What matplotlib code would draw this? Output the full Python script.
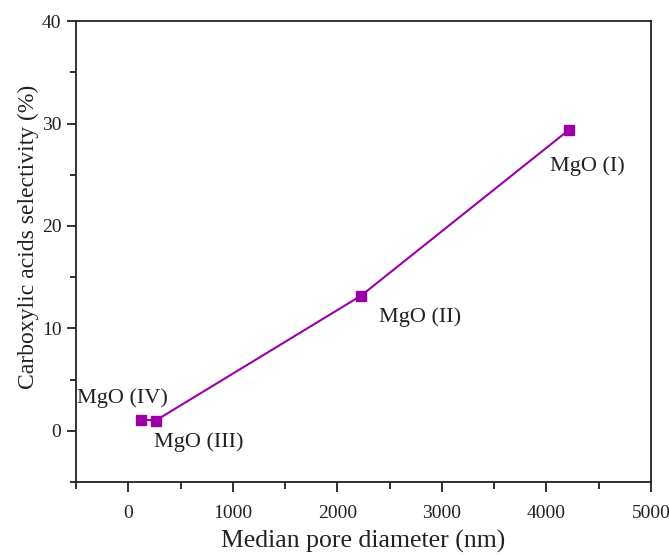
import matplotlib
matplotlib.use("Agg")
import matplotlib.pyplot as plt
from matplotlib.ticker import MultipleLocator

# data
pore_diameter = [124, 262, 2228, 4218]          # nm
selectivity = [1.1, 1.0, 13.2, 29.4]            # %
sample_labels = ["MgO (IV)", "MgO (III)", "MgO (II)", "MgO (I)"]
label_pos = [(-490, 3.2), (250, -1.1), (2400, 11.1), (4030, 25.8)]

plt.rcParams["font.family"] = ["Liberation Serif", "DejaVu Serif"]
purple = "#9b00a8"
ink = "#222222"

fig = plt.figure(figsize=(6.69, 5.55), dpi=100)
ax = fig.add_axes([0.1136, 0.1315, 0.8594, 0.8305])

ax.plot(pore_diameter, selectivity, color=purple, lw=1.5,
        marker="s", ms=7, mec=purple, mfc=purple)

for text, (tx, ty) in zip(sample_labels, label_pos):
    ax.text(tx, ty, text, ha="left", va="center", fontsize=16, color=ink)

ax.set_xlim(-500, 5000)
ax.set_ylim(-5, 40)
ax.xaxis.set_major_locator(MultipleLocator(1000))
ax.xaxis.set_minor_locator(MultipleLocator(500))
ax.yaxis.set_major_locator(MultipleLocator(10))
ax.yaxis.set_minor_locator(MultipleLocator(5))
ax.tick_params(which="both", direction="out", top=False, right=False,
               width=1.3, labelsize=14, colors=ink)
ax.tick_params(axis="x", which="major", length=7.5, pad=9)
ax.tick_params(axis="x", which="minor", length=5)
ax.tick_params(axis="y", which="major", length=6.5, pad=4)
ax.tick_params(axis="y", which="minor", length=4)
for spine in ax.spines.values():
    spine.set_linewidth(1.3)
    spine.set_color(ink)

ax.set_xlabel("Median pore diameter (nm)", fontsize=18.5, color=ink)
ax.xaxis.set_label_coords(0.5, -0.104)
ax.set_ylabel("Carboxylic acids selectivity (%)", fontsize=17, color=ink)
ax.yaxis.set_label_coords(-0.064, 0.531)

fig.savefig("out.png", dpi=100)
